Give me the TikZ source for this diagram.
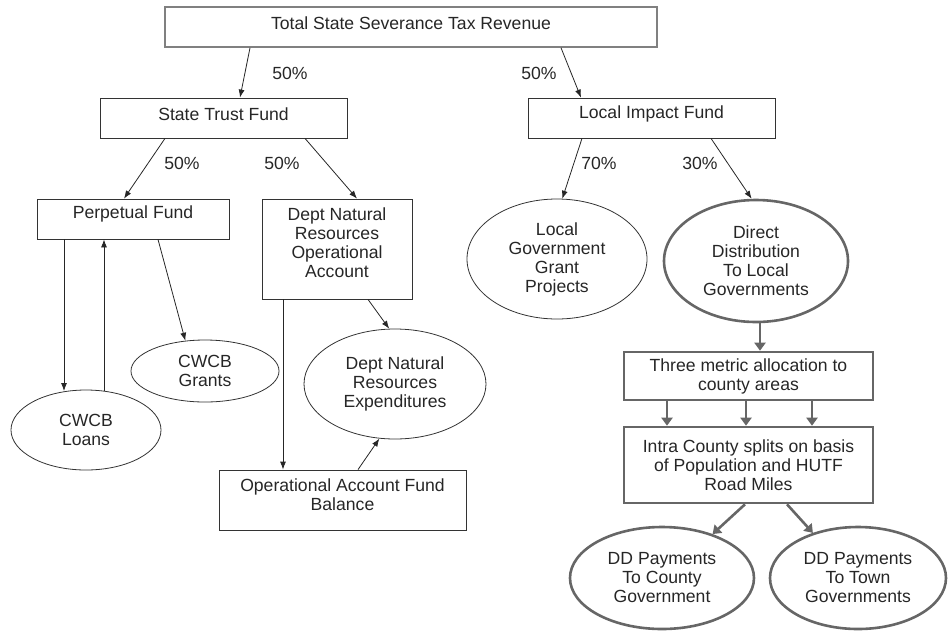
\documentclass[tikz,border=0pt]{standalone}
\usepackage{fontspec}
\setmainfont{Liberation Sans}
\usetikzlibrary{arrows.meta,shapes.geometric}
\begin{document}
\begin{tikzpicture}[x=1pt,y=-1pt,
  every node/.style={font=\fontsize{17.6}{19}\selectfont, text=black!85, inner sep=0pt, align=center},
  thinbox/.style={draw=black!80, line width=0.8pt, rectangle},
  topbox/.style={draw=black!50, line width=1.6pt, rectangle},
  thickbox/.style={draw=black!60, line width=2.6pt, rectangle},
  thinell/.style={draw=black!80, line width=0.8pt, ellipse},
  thickell/.style={draw=black!60, line width=2.6pt, ellipse},
  thinarrow/.style={draw=black!85, line width=0.8pt, -{Latex[length=8pt,width=6pt]}},
  thickarrow/.style={draw=black!60, line width=2.6pt, -{Triangle[length=8pt,width=11pt]}},
  pct/.style={}
]
\useasboundingbox (0,0) rectangle (948,630);
% boxes
\node[topbox, minimum width=492pt, minimum height=40pt,
  label={[yshift=4pt]center:Total State Severance Tax Revenue}] (top) at (411,27) {};
\node[thinbox, minimum width=247pt, minimum height=40pt,
  label={[yshift=4pt]center:State Trust Fund}] (stf) at (223.5,118) {};
\node[thinbox, minimum width=247pt, minimum height=40pt,
  label={[yshift=4pt]center:Local Impact Fund}] (lif) at (651.5,118) {};
\node[thinbox, minimum width=192pt, minimum height=40pt,
  label={[yshift=5pt]center:Perpetual Fund}] (pf) at (133,219) {};
\node[thinbox, minimum width=150pt, minimum height=100pt,
  label={[yshift=6pt,align=center]center:Dept Natural\\Resources\\Operational\\Account}] (dnro) at (337,249) {};
\node[thinbox, minimum width=247pt, minimum height=60pt,
  label={[yshift=5pt,align=center]center:Operational Account Fund\\Balance}] (oafb) at (342.5,500) {};
\node[thickbox, minimum width=249pt, minimum height=48pt] (three) at (748.5,376) {Three metric allocation to\\county areas};
\node[thickbox, minimum width=249pt, minimum height=76pt] (intra) at (748.5,465) {Intra County splits on basis\\of Population and HUTF\\Road Miles};
% ellipses
\node[thinell, minimum width=180pt, minimum height=120pt] (lgg) at (557,259) {Local\\Government\\Grant\\Projects};
\node[thickell, minimum width=184pt, minimum height=122pt] (ddl) at (756,261) {Direct\\Distribution\\To Local\\Governments};
\node[thinell, minimum width=148pt, minimum height=62pt] (grants) at (205,371) {CWCB\\Grants};
\node[thinell, minimum width=150pt, minimum height=80pt] (loans) at (86,430) {CWCB\\Loans};
\node[thinell, minimum width=182pt, minimum height=110pt] (dnrexp) at (395,384) {Dept Natural\\Resources\\Expenditures};
\node[thickell, minimum width=184pt, minimum height=102pt] (ddc) at (662,578) {DD Payments\\To County\\Government};
\node[thickell, minimum width=176pt, minimum height=102pt] (ddt) at (858,578) {DD Payments\\To Town\\Governments};
% percentage labels
\node (p1) at (290,73) {50\%};
\node (p2) at (539,73) {50\%};
\node (p3) at (182,163) {50\%};
\node (p4) at (282,163) {50\%};
\node (p5) at (599,163) {70\%};
\node (p6) at (700,163) {30\%};
% thin connectors
\draw[thinarrow] (250,0 |- top.south) -- (240,0 |- stf.north);
\draw[thinarrow] (561,0 |- top.south) -- (581,0 |- lif.north);
\draw[thinarrow] (165,0 |- stf.south) -- (124,0 |- pf.north);
\draw[thinarrow] (305,0 |- stf.south) -- (357,0 |- dnro.north);
\draw[thinarrow] (582,0 |- lif.south) -- (lgg.85);
\draw[thinarrow] (711,0 |- lif.south) -- (ddl.94);
\draw[thinarrow] (64,0 |- pf.south) -- (64,391);
\draw[thinarrow] (104,391) -- (104,0 |- pf.south);
\draw[thinarrow] (158,0 |- pf.south) -- (grants.123);
\draw[thinarrow] (368,0 |- dnro.south) -- (dnrexp.96);
\draw[thinarrow] (283,0 |- dnro.south) -- (283,0 |- oafb.north);
\draw[thinarrow] (358,0 |- oafb.north) -- (dnrexp.254);
% thick connectors
\draw[thickarrow] (760,0 |- ddl.south) -- (760,0 |- three.north);
\draw[thickarrow] (667,0 |- three.south) -- (667,0 |- intra.north);
\draw[thickarrow] (746,0 |- three.south) -- (746,0 |- intra.north);
\draw[thickarrow] (812,0 |- three.south) -- (812,0 |- intra.north);
\draw[thickarrow] (745,0 |- intra.south) -- (ddc.41);
\draw[thickarrow] (787,0 |- intra.south) -- (ddt.135);
\end{tikzpicture}
\end{document}
